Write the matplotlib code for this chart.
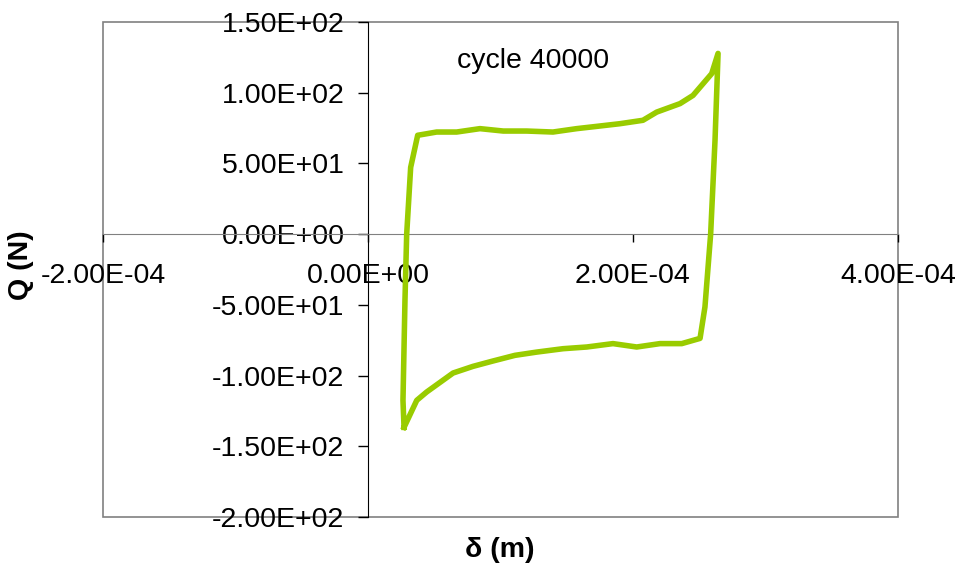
import numpy as np
import matplotlib.pyplot as plt
from matplotlib.ticker import FuncFormatter, MultipleLocator
from matplotlib.patches import Rectangle

plt.rcParams['font.family'] = ['Liberation Sans', 'DejaVu Sans']

# lazo de histéresis, ciclo 40000
# rama de carga izquierda, rama superior, descarga derecha, rama inferior
delta = [2.72e-5, 2.64e-5, 2.79e-5, 2.92e-5, 3.22e-5, 3.75e-5,
         5.18e-5, 6.69e-5, 8.45e-5, 1.021e-4, 1.198e-4, 1.396e-4, 1.575e-4,
         1.726e-4, 1.902e-4, 2.075e-4, 2.179e-4, 2.355e-4, 2.453e-4,
         2.594e-4, 2.642e-4,
         2.619e-4, 2.586e-4, 2.543e-4, 2.506e-4,
         2.368e-4, 2.204e-4, 2.028e-4, 1.849e-4, 1.651e-4, 1.472e-4,
         1.273e-4, 1.109e-4, 9.43e-5, 7.92e-5, 6.42e-5, 4.43e-5, 3.68e-5,
         2.72e-5]
Q = [-136.6, -117.6, -46.9, 0.0, 47.2, 69.9,
     72.2, 72.2, 74.6, 72.9, 72.9, 72.2, 74.6,
     76.2, 78.1, 80.5, 86.3, 92.3, 98.1,
     113.5, 127.8,
     66.3, 0.0, -51.5, -73.7,
     -77.4, -77.4, -79.8, -77.4, -79.8, -81.0,
     -83.4, -85.7, -89.7, -93.5, -98.2, -111.6, -117.5,
     -136.6]

etiqueta = 'cycle 40000'

fig = plt.figure(figsize=(9.6, 5.72), dpi=100)
ax = fig.add_axes([103 / 960, 1 - 517 / 572, 795 / 960, 495 / 572])

ax.plot(delta, Q, color='#99CC00', lw=4, solid_joinstyle='round', zorder=5)

ax.set_xlim(-2e-4, 4e-4)
ax.set_ylim(-200, 150)
ax.xaxis.set_major_locator(MultipleLocator(2e-4))
ax.yaxis.set_major_locator(MultipleLocator(50))
fmt = FuncFormatter(lambda v, p: f'{v:.2E}')
ax.xaxis.set_major_formatter(fmt)
ax.yaxis.set_major_formatter(fmt)

# ejes cruzando en el origen, estilo Excel
ax.spines['left'].set_position(('data', 0))
ax.spines['bottom'].set_position(('data', 0))
ax.spines['left'].set_color('black')
ax.spines['bottom'].set_color('#808080')
ax.spines['top'].set_visible(False)
ax.spines['right'].set_visible(False)
ax.add_patch(Rectangle((0, 0), 1, 1, transform=ax.transAxes, fill=False,
                       edgecolor='#808080', lw=1.2, zorder=0, clip_on=False))

ax.tick_params(axis='x', direction='out', length=6, width=1, color='black',
               labelsize=20.5, pad=15)
ax.tick_params(axis='y', direction='out', length=7, width=1, color='black',
               labelsize=20.5, pad=10)

ax.text(0.67e-4, 122.5, etiqueta, fontsize=20.5, ha='left', va='center')

fig.text(21 / 960, 1 - 265 / 572, 'Q (N)', rotation=90, fontsize=20.5,
         fontweight='bold', ha='center', va='center')
fig.text(500 / 960, 1 - 550 / 572, 'δ (m)', fontsize=20.5,
         fontweight='bold', ha='center', va='center')

fig.savefig('out.png', dpi=100)
